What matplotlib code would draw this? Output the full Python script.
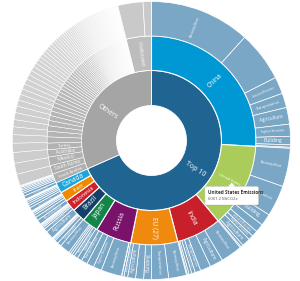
import numpy as np
import matplotlib
matplotlib.use("Agg")
import matplotlib.pyplot as plt
from matplotlib.patches import FancyBboxPatch, Polygon

plt.rcParams['font.family'] = ['Open Sans', 'DejaVu Sans']

# ---------------- data (MtCO2e) ----------------
groups = ["Top 10", "Others"]

top10_countries = ["China", "United States", "India", "EU (27)", "Russia",
                   "Japan", "Brazil", "Indonesia", "Iran", "Canada"]
top10_totals = [11880, 6001.2, 3190, 3320, 2550, 1150, 960, 830, 700, 770]
top10_colors = ["#0098d4", "#a9cc5b", "#c8202a", "#ef8a0e", "#7a126c",
                "#148548", "#12406b", "#ce232c", "#ef8a00", "#1ba4dd"]

china_sectors = ["Electricity/Heat", "Manufacturing/Construction", "Industrial Processes",
                 "Transportation", "Agriculture", "Fugitive Emissions", "Building",
                 "Waste", "Other Fuel Combustion"]
china_values = [5360, 2680, 900, 770, 890, 640, 450, 130, 60]

us_sectors = ["Electricity/Heat", "Transportation", "Building", "Manufacturing/Construction",
              "Industrial Processes", "Fugitive Emissions", "Agriculture", "Waste",
              "Other Fuel Combustion"]
us_values = [2043, 1660, 640, 447, 319, 255, 447, 128, 62.2]

india_sectors = ["Electricity/Heat", "Agriculture", "Manufacturing/Construction",
                 "Transportation", "Industrial Processes", "Building", "Waste",
                 "Fugitive Emissions"]
india_values = [1150, 700, 560, 300, 190, 150, 90, 50]

eu_sectors = ["Electricity/Heat", "Transportation", "Building", "Manufacturing/Construction",
              "Agriculture", "Industrial Processes", "Waste", "Fugitive Emissions"]
eu_values = [950, 900, 420, 430, 420, 200, 110, 20]

russia_sectors = ["Electricity/Heat", "Fugitive Emissions", "Manufacturing/Construction",
                  "Transportation", "Building", "Industrial Processes", "Agriculture",
                  "Waste", "Other Fuel Combustion"]
russia_values = [1100, 450, 380, 330, 250, 200, 130, 110, 100]

japan_sectors = ["Electricity/Heat", "Transportation", "Manufacturing/Construction",
                 "Building", "Industrial Processes", "Agriculture", "Waste",
                 "Fugitive Emissions"]
japan_values = [550, 210, 190, 80, 60, 30, 20, 10]

brazil_sectors = ["Agriculture", "Transportation", "Manufacturing/Construction",
                  "Electricity/Heat", "Waste", "Industrial Processes", "Building",
                  "Fugitive Emissions"]
brazil_values = [440, 190, 100, 70, 60, 50, 30, 20]

indonesia_sectors = ["Electricity/Heat", "Agriculture", "Transportation",
                     "Manufacturing/Construction", "Waste", "Fugitive Emissions",
                     "Industrial Processes", "Building"]
indonesia_values = [250, 180, 140, 100, 70, 40, 30, 20]

iran_sectors = ["Electricity/Heat", "Transportation", "Building", "Fugitive Emissions",
                "Manufacturing/Construction", "Industrial Processes", "Agriculture", "Waste"]
iran_values = [190, 130, 110, 100, 80, 40, 30, 20]

canada_sectors = ["Transportation", "Fugitive Emissions", "Manufacturing/Construction",
                  "Electricity/Heat", "Building", "Agriculture", "Industrial Processes",
                  "Waste", "Other Fuel Combustion"]
canada_values = [180, 150, 100, 90, 80, 70, 50, 30, 20]

others_named = ["Saudi Arabia", "South Korea", "Mexico", "Australia", "Turkey"]
others_named_values = [650, 620, 600, 520, 470]
others_tail_values = [440, 400, 390, 370, 350, 330, 320, 300, 290, 280,
                      260, 250, 230, 220, 210, 200, 190, 185, 180, 175,
                      170, 160, 150, 140, 130, 125, 120, 115, 110, 105,
                      100, 95, 90, 85, 80, 78, 75, 72, 70, 68,
                      66, 65, 64, 62, 61, 60, 59, 58, 57, 56,
                      55, 54, 53, 52, 51, 50, 49, 48, 47, 46,
                      45, 44, 43, 42, 41, 40, 39, 38, 37, 36,
                      35, 34, 33, 32, 31, 30, 29, 28, 27, 26,
                      25, 24, 23, 22, 21, 20, 19, 18, 17, 16,
                      15, 14, 13, 12, 11, 10, 9, 8, 7, 6,
                      5, 4, 3]
unallocated_label = "Unallocated"
unallocated_sectors = ["International Aviation", "International Marine"]
unallocated_values = [1340, 450]

tooltip_title = "United States Emissions"
tooltip_value = "6001.2 MtCO2e"

# ---------------- build rings ----------------
sector_lists = [china_values, us_values, india_values, eu_values, russia_values,
                japan_values, brazil_values, indonesia_values, iran_values, canada_values]
sector_names = [china_sectors, us_sectors, india_sectors, eu_sectors, russia_sectors,
                japan_sectors, brazil_sectors, indonesia_sectors, iran_sectors, canada_sectors]

others_country_values = others_named_values + others_tail_values
top10_total = sum(top10_totals)
others_total = sum(others_country_values) + sum(unallocated_values)
T = top10_total + others_total

ring1_vals = [top10_total, others_total]
ring1_cols = ["#206592", "#a5a5a5"]

n_oth = len(others_country_values)
def gray(v):
    return (v, v, v)
ring2_vals = top10_totals + others_country_values + [sum(unallocated_values)]
ring2_cols = top10_colors + [gray(0.69 + 0.25 * i / (n_oth - 1)) for i in range(n_oth)] + ["#bdbdbd"]
ring2_labels = top10_countries + others_named + [""] * len(others_tail_values) + [unallocated_label]
ring2_lw = [0.8] * len(top10_totals) + [0.35] * n_oth + [0.6]

ring3_top = [v for lst in sector_lists for v in lst]
ring3_top_labels = [n for lst in sector_names for n in lst]
remaining = T - sum(ring3_top) - sum(unallocated_values)
scale = remaining / sum(others_country_values)
ring3_vals = ring3_top + [v * scale for v in others_country_values] + unallocated_values
ring3_cols = (["#7ba7c7"] * len(ring3_top)
              + [gray(0.80 + 0.17 * i / (n_oth - 1)) for i in range(n_oth)]
              + ["#c9c9c9", "#c9c9c9"])
ring3_labels = ring3_top_labels + [""] * n_oth + ["", ""]
ring3_lw = [0.5] * len(ring3_top) + [0.35] * n_oth + [0.5, 0.5]

# ---------------- figure ----------------
fig = plt.figure(figsize=(3.0, 2.81), dpi=100)
ax = fig.add_axes([0, 0, 1, 1])

R0, R1, R2, R3 = 35, 70, 104.5, 139

def draw_ring(vals, cols, r_in, r_out, lws):
    wedges, _ = ax.pie(vals, radius=r_out, colors=cols, startangle=90, counterclock=False,
                       wedgeprops=dict(width=r_out - r_in, edgecolor="white"))
    for w, lw in zip(wedges, lws):
        w.set_linewidth(lw)

draw_ring(ring1_vals, ring1_cols, R0, R1, [0.6, 0.6])
draw_ring(ring2_vals, ring2_cols, R1, R2, ring2_lw)
draw_ring(ring3_vals, ring3_cols, R2, R3, ring3_lw)

PX_PER_PT = 100 / 72.0

def label_ring(vals, labels, r_in, r_out, max_fs, color="white"):
    vals = np.asarray(vals, dtype=float)
    ends = np.cumsum(vals) / vals.sum() * 360
    starts = ends - vals / vals.sum() * 360
    thick = r_out - r_in
    rmid = (r_in + r_out) / 2
    for a0, a1, lab in zip(starts, ends, labels):
        if not lab:
            continue
        w = np.radians(a1 - a0)
        fs_len = thick * 0.82 / (len(lab) * 0.56 * PX_PER_PT)
        fs_h = rmid * w * 0.75 / PX_PER_PT
        fs = min(max_fs, fs_len, fs_h)
        if fs < 1.6:
            continue
        am = (a0 + a1) / 2
        phi = 90 - am
        rot = (phi + 180) % 360 - 180
        if rot > 90:
            rot -= 180
        elif rot < -90:
            rot += 180
        x = rmid * np.cos(np.radians(phi))
        y = rmid * np.sin(np.radians(phi))
        ax.text(x, y, lab, fontsize=fs, color=color, rotation=rot,
                rotation_mode="anchor", ha="center", va="center")

label_ring(ring1_vals, groups, R0, R1, 5.0)
label_ring(ring2_vals, ring2_labels, R1, R2, 4.8)
label_ring(ring3_vals, ring3_labels, R2, R3, 3.6)

# tooltip
bx0, by0, bw, bh = 53.5, -64.5, 53.5, 18.5
shadow = FancyBboxPatch((bx0 + 0.8, by0 - 0.8), bw, bh,
                        boxstyle="round,pad=0,rounding_size=1.5",
                        fc="#000000", ec="none", alpha=0.12, zorder=9)
ax.add_patch(shadow)
box = FancyBboxPatch((bx0, by0), bw, bh, boxstyle="round,pad=0,rounding_size=1.5",
                     fc="white", ec="#d0d0d0", lw=0.4, zorder=10)
ax.add_patch(box)
tip = Polygon([(76.5, by0 + bh - 0.2), (80.2, by0 + bh + 4.0), (83.9, by0 + bh - 0.2)],
              closed=True, fc="white", ec="none", zorder=11)
ax.add_patch(tip)
ax.text(bx0 + 2.5, by0 + 12.3, tooltip_title, fontsize=3.3, fontweight="bold",
        color="#333333", va="center", ha="left", zorder=12)
ax.text(bx0 + 2.5, by0 + 5.6, tooltip_value, fontsize=3.0,
        color="#555555", va="center", ha="left", zorder=12)

ax.set_xlim(-151.5, 148.5)
ax.set_ylim(-140.5, 140.5)
ax.set_aspect("equal")
ax.axis("off")

fig.savefig("out.png", dpi=100)
